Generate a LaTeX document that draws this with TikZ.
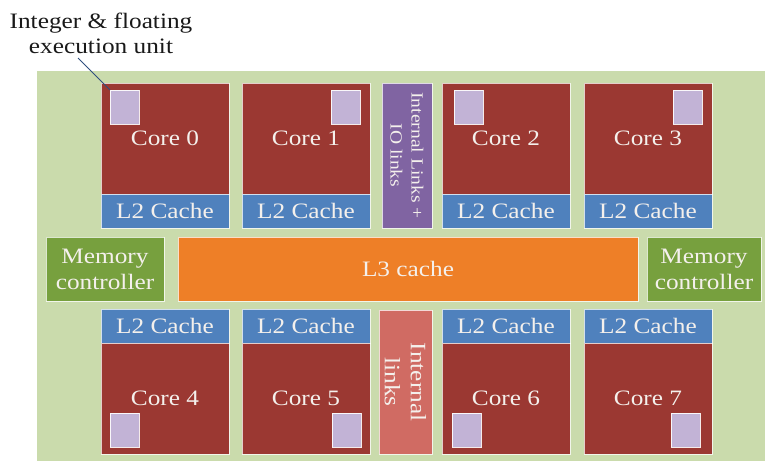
\documentclass[tikz,border=0pt]{standalone}
\usepackage{fontspec}
\setmainfont{Liberation Serif}[FakeStretch=1.15]
\definecolor{diegreen}{HTML}{CADBAC}
\definecolor{corered}{HTML}{9B3832}
\definecolor{cacheblue}{HTML}{4F81BD}
\definecolor{linkpurple}{HTML}{8064A2}
\definecolor{linksalmon}{HTML}{D06B63}
\definecolor{lthree}{HTML}{EE7F27}
\definecolor{mcgreen}{HTML}{77A03E}
\definecolor{execlilac}{HTML}{C2B3D6}
\definecolor{boxtext}{HTML}{F4F0EC}
\definecolor{calloutblue}{HTML}{2F4F7F}
\tikzset{
  block/.style={rectangle, inner sep=0pt, outer sep=0pt, anchor=north west,
    draw=white, draw opacity=0.75, line width=0.9pt, text=boxtext,
    font=\fontsize{22}{26}\selectfont, align=center},
  corebox/.style={block, fill=corered, minimum width=128pt, minimum height=111pt},
  cachebox/.style={block, fill=cacheblue, minimum width=128pt, minimum height=34pt},
  execbox/.style={block, fill=execlilac, draw opacity=0.9, minimum width=29pt, minimum height=34pt},
  mcbox/.style={block, fill=mcgreen, minimum height=64pt},
  callout/.style={draw=calloutblue, line width=0.8pt}
}
\begin{document}
\begin{tikzpicture}[x=1pt,y=-1pt]
\useasboundingbox (0,0) rectangle (765,461);
% die area
\node[rectangle, fill=diegreen, inner sep=0pt, outer sep=0pt, anchor=north west,
  minimum width=728pt, minimum height=390pt] (die) at (37,71) {};

% top row of cores with their L2 caches
\node[corebox] (c0) at (101,83) {Core 0};
\node[corebox] (c1) at (242,83) {Core 1};
\node[corebox] (c2) at (442,83) {Core 2};
\node[corebox] (c3) at (584,83) {Core 3};
\node[cachebox] (l20) at (101,194) {L2 Cache};
\node[cachebox] (l21) at (242,194) {L2 Cache};
\node[cachebox] (l22) at (442,194) {L2 Cache};
\node[cachebox] (l23) at (584,194) {L2 Cache};
\node[execbox] (e0) at (110,90) {};
\node[execbox] (e1) at (331,90) {};
\node[execbox] (e2) at (454,90) {};
\node[execbox] (e3) at (673,90) {};

% links between the top cores
\node[block, fill=linkpurple, minimum width=50pt, minimum height=145pt] (iolinks) at (382,83) {};
\node[rotate=-90, text=boxtext, align=center, inner sep=0pt,
  font=\fontsize{17}{21}\selectfont] (iolinkstext) at (iolinks.center) {Internal Links +\\IO links};

% middle band
\node[mcbox, minimum width=118pt] (mcl) at (46,237) {Memory\\controller};
\node[block, fill=lthree, minimum width=460pt, minimum height=64pt] (l3) at (178,237) {L3 cache};
\node[mcbox, minimum width=114pt] (mcr) at (647,237) {Memory\\controller};

% bottom row of cores with their L2 caches
\node[cachebox] (l24) at (101,309) {L2 Cache};
\node[cachebox] (l25) at (242,309) {L2 Cache};
\node[cachebox] (l26) at (442,309) {L2 Cache};
\node[cachebox] (l27) at (584,309) {L2 Cache};
\node[corebox] (c4) at (101,343) {Core 4};
\node[corebox] (c5) at (242,343) {Core 5};
\node[corebox] (c6) at (442,343) {Core 6};
\node[corebox] (c7) at (584,343) {Core 7};
\node[execbox] (e4) at (110,413) {};
\node[execbox] (e5) at (332,413) {};
\node[execbox] (e6) at (452,413) {};
\node[execbox] (e7) at (671,413) {};

% links between the bottom cores
\node[block, fill=linksalmon, minimum width=53pt, minimum height=144pt] (intlinks) at (379,310) {};
\node[rotate=-90, text=boxtext, align=center, inner sep=0pt,
  font=\fontsize{22}{26}\selectfont] (intlinkstext) at (intlinks.center) {Internal\\links};

% callout for the execution unit
\node[align=center, inner sep=0pt, text=black!90,
  font=\fontsize{22}{25}\selectfont] (lbl) at (101,33) {Integer \& floating\\execution unit};
\coordinate (lblfoot) at (78,58);
\draw[callout] (lblfoot) -- (e0.north west);
\end{tikzpicture}
\end{document}
